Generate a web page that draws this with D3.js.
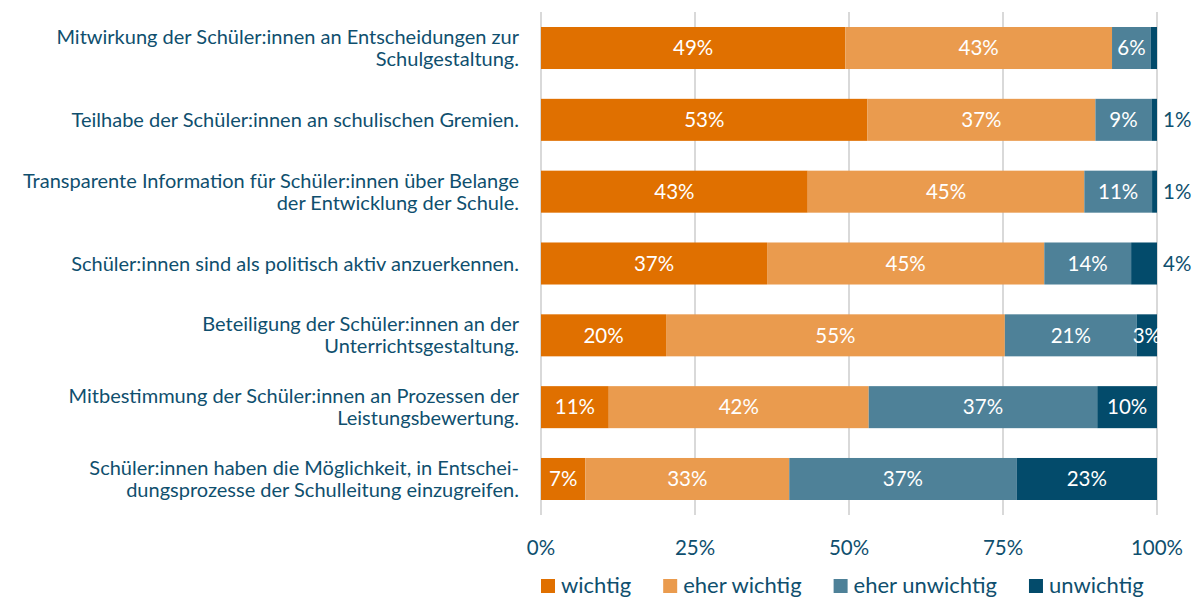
<!DOCTYPE html>
<html lang="de">
<head>
<meta charset="utf-8">
<title>Schüler:innen Beteiligung</title>
<script src="https://cdn.jsdelivr.net/npm/d3@7"></script>
<style>
  body { margin: 0; background: #fff; }
  svg { display: block; font-family: Lato, "Noto Sans", sans-serif; }
</style>
</head>
<body>
<script>
// categories (line breaks as in the original)
var categories = [
  "Mitwirkung der Schüler:innen an Entscheidungen zur\nSchulgestaltung.",
  "Teilhabe der Schüler:innen an schulischen Gremien.",
  "Transparente Information für Schüler:innen über Belange\nder Entwicklung der Schule.",
  "Schüler:innen sind als politisch aktiv anzuerkennen.",
  "Beteiligung der Schüler:innen an der\nUnterrichtsgestaltung.",
  "Mitbestimmung der Schüler:innen an Prozessen der\nLeistungsbewertung.",
  "Schüler:innen haben die Möglichkeit, in Entschei-\ndungsprozesse der Schulleitung einzugreifen."
];
var seriesNames = ["wichtig", "eher wichtig", "eher unwichtig", "unwichtig"];

// percentages per series
var wichtig       = [49.4, 53.0, 43.3, 36.7, 20.3, 11.0,  7.2];
var eherWichtig   = [43.3, 37.0, 44.9, 45.0, 55.0, 42.2, 33.1];
var eherUnwichtig = [ 6.3,  9.1, 11.0, 14.1, 21.4, 37.1, 36.9];
var unwichtig     = [ 1.0,  0.9,  0.8,  4.2,  3.3,  9.7, 22.8];

// where the label of the last segment goes
var lastLabelPos = ["none", "out", "out", "out", "in", "in", "in"];

var tickValues = [0, 25, 50, 75, 100];

var colors = ["#e07000", "#ea9b4e", "#4e8198", "#034b6b"];
var textColor = "#0f4f6e";

var W = 1196, H = 597;
var x0 = 541, x1 = 1157;

var svg = d3.select("body").append("svg")
  .attr("width", W).attr("height", H);

var x = d3.scaleLinear().domain([0, 100]).range([x0, x1]);
var y = d3.scaleBand().domain(d3.range(categories.length))
  .range([27, 500]).paddingInner(0.415).paddingOuter(0);

// gridlines
svg.append("g").selectAll("line")
  .data(tickValues).enter().append("line")
  .attr("x1", function(d) { return x(d); })
  .attr("x2", function(d) { return x(d); })
  .attr("y1", 12).attr("y2", 515)
  .attr("stroke", "#d9d9d9").attr("stroke-width", 2);

// stack
var rows = categories.map(function(c, i) {
  return { "wichtig": wichtig[i], "eher wichtig": eherWichtig[i],
           "eher unwichtig": eherUnwichtig[i], "unwichtig": unwichtig[i], idx: i };
});
var stacked = d3.stack().keys(seriesNames)(rows);

var layers = svg.append("g").selectAll("g")
  .data(stacked).enter().append("g")
  .attr("fill", function(d, k) { return colors[k]; });

layers.selectAll("rect")
  .data(function(d) { return d; }).enter().append("rect")
  .attr("x", function(d) { return x(d[0]); })
  .attr("y", function(d) { return y(d.data.idx); })
  .attr("width", function(d) { return x(d[1]) - x(d[0]); })
  .attr("height", y.bandwidth());

// segment labels
stacked.forEach(function(layer, k) {
  layer.forEach(function(d) {
    var i = d.data.idx;
    var v = Math.round(d[1] - d[0]);
    var cy = y(i) + y.bandwidth() / 2;
    var tx, anchor = "middle", fill = "#fff";
    if (k === 3 && lastLabelPos[i] === "none") return;
    if (k === 3 && lastLabelPos[i] === "out") {
      tx = x(100) + 6; anchor = "start"; fill = textColor;
    } else {
      tx = (x(d[0]) + x(d[1])) / 2;
    }
    svg.append("text")
      .attr("x", tx).attr("y", cy)
      .attr("dy", "0.35em")
      .attr("text-anchor", anchor)
      .attr("font-size", 20.5)
      .attr("fill", fill)
      .text(v + "%");
  });
});

// category labels
categories.forEach(function(c, i) {
  var lines = c.split("\n");
  var lh = 22;
  var cy = y(i) + y.bandwidth() / 2;
  var t = svg.append("text")
    .attr("text-anchor", "end")
    .attr("font-size", 20)
    .attr("fill", textColor);
  lines.forEach(function(l, j) {
    t.append("tspan")
      .attr("x", 519)
      .attr("y", cy + (j - (lines.length - 1) / 2) * lh)
      .attr("dy", "0.35em")
      .text(l);
  });
});

// x axis labels
svg.append("g").selectAll("text")
  .data(tickValues).enter().append("text")
  .attr("x", function(d) { return x(d); })
  .attr("y", 548).attr("dy", "0.35em")
  .attr("text-anchor", "middle")
  .attr("font-size", 20.5)
  .attr("fill", textColor)
  .text(function(d) { return d + "%"; });

// legend
var lx = x0;
seriesNames.forEach(function(name, k) {
  svg.append("rect")
    .attr("x", lx).attr("y", 579)
    .attr("width", 14).attr("height", 14)
    .attr("fill", colors[k]);
  var t = svg.append("text")
    .attr("x", lx + 20).attr("y", 585).attr("dy", "0.35em")
    .attr("font-size", 22)
    .attr("fill", textColor)
    .text(name);
  lx += 20 + t.node().getComputedTextLength() + 32;
});
</script>
</body>
</html>
